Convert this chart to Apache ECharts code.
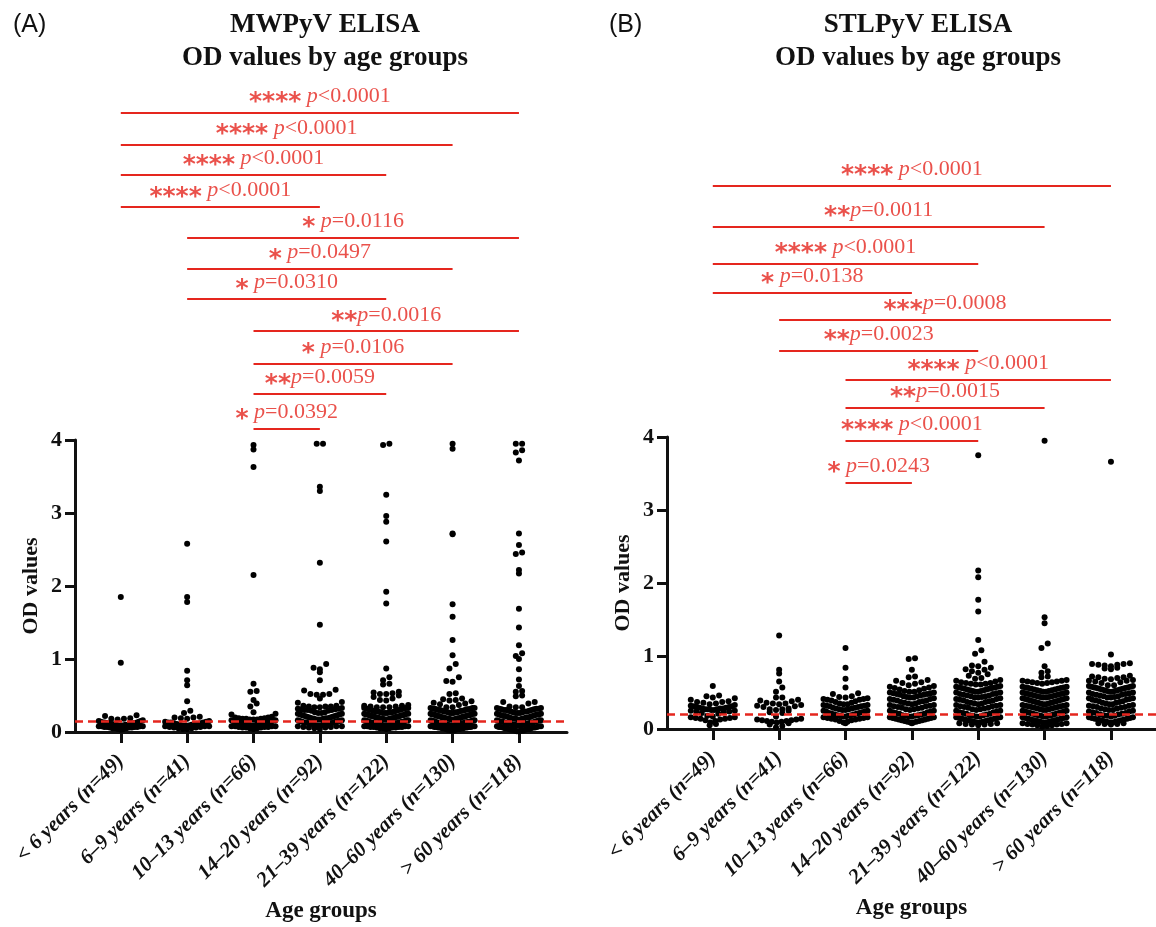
<!DOCTYPE html>
<html><head><meta charset="utf-8">
<script src="https://cdn.jsdelivr.net/npm/echarts@6/dist/echarts.min.js"></script>
<style>html,body{margin:0;padding:0;background:#fff}#c{width:1156px;height:927px}</style>
</head><body><div id="c"></div>
<script>
// ---------------- DATA ----------------
const categories = ['< 6 years (n=49)', '6–9 years (n=41)', '10–13 years (n=66)', '14–20 years (n=92)', '21–39 years (n=122)', '40–60 years (n=130)', '> 60 years (n=118)'];
const yTicks = [0, 1, 2, 3, 4];
const cutoffMwpyv = 0.15;
const cutoffStlpyv = 0.20;

// MWPyV OD values per age group
const mwpyvLt6 = [1.85,0.95,0.23,0.22,0.19,0.18,0.18,0.17,0.16,
0.15,0.15,0.14,0.14,0.13,0.13,0.13,0.12,0.12,0.12,
0.12,0.11,0.11,0.11,0.11,0.10,0.10,0.10,0.10,0.09,
0.09,0.09,0.09,0.08,0.08,0.08,0.08,0.07,0.07,0.07,
0.07,0.06,0.06,0.06,0.05,0.05,0.05,0.04,0.04,0.03];
const mwpyv6to9 = [2.58,1.85,1.78,0.84,0.71,0.64,0.42,0.29,0.26,0.21,0.20,0.20,0.19,0.18,
0.15,0.14,0.14,0.13,0.13,0.13,0.12,0.12,0.11,0.11,
0.10,0.10,0.10,0.09,0.09,0.09,0.08,0.08,0.08,0.07,
0.07,0.06,0.06,0.05,0.05,0.04,0.04];
const mwpyv10to13 = [3.93,3.87,3.63,2.15,0.66,0.56,0.55,0.44,0.39,0.35,0.27,0.25,0.24,
0.21,0.20,0.20,0.19,0.19,0.18,0.18,0.18,0.17,0.17,
0.17,0.16,0.16,0.16,0.15,0.15,0.15,0.14,0.14,0.14,
0.13,0.13,0.13,0.13,0.12,0.12,0.12,0.12,0.11,0.11,
0.11,0.11,0.10,0.10,0.10,0.10,0.09,0.09,0.09,0.09,
0.08,0.08,0.08,0.08,0.07,0.07,0.07,0.06,0.06,0.06,
0.05,0.05,0.04];
const mwpyv14to20 = [3.95,3.95,3.36,3.30,2.32,1.47,0.93,0.88,0.86,0.82,
0.71,0.58,0.57,0.52,0.52,0.51,0.51,0.46,0.41,0.40,
0.36,0.36,0.35,0.35,0.35,0.34,0.34,0.33,0.32,0.32,
0.31,0.31,0.30,0.30,0.30,0.29,0.29,
0.27,0.27,0.26,0.26,0.25,0.25,0.24,0.24,0.23,0.23,
0.22,0.22,0.21,0.21,0.20,0.20,0.19,0.19,0.19,0.18,
0.18,0.17,0.17,0.17,0.16,0.16,0.15,0.15,0.15,0.14,
0.14,0.13,0.13,0.13,0.12,0.12,0.12,0.11,0.11,0.11,
0.10,0.10,0.10,0.09,0.09,0.09,0.08,0.08,0.08,0.07,
0.07,0.06,0.06,0.05,0.04];
const mwpyv21to39 = [3.95,3.93,3.25,2.96,2.88,2.61,1.92,1.76,0.87,0.75,
0.71,0.66,0.65,0.55,0.54,0.53,0.52,0.52,0.50,0.48,
0.46,0.44,0.43,
0.37,0.36,0.36,0.35,0.35,0.34,0.34,0.34,0.33,0.33,
0.33,0.32,0.32,0.31,0.31,0.30,0.30,0.29,0.29,0.28,
0.28,0.28,0.27,0.27,0.27,0.26,0.26,0.26,0.25,0.25,
0.25,0.24,0.24,0.24,0.23,0.23,0.23,0.22,0.22,0.22,
0.21,0.21,0.21,0.20,0.20,0.20,0.19,0.19,0.19,0.18,
0.18,0.18,0.17,0.17,0.17,0.16,0.16,0.16,0.15,0.15,
0.15,0.14,0.14,0.14,0.13,0.13,0.13,0.13,0.12,0.12,
0.12,0.12,0.11,0.11,0.11,0.11,0.10,0.10,0.10,0.10,
0.09,0.09,0.09,0.09,0.08,0.08,0.08,0.08,0.07,0.07,
0.07,0.07,0.06,0.06,0.06,0.05,0.05,0.05,0.04];
const mwpyv40to60 = [3.95,3.88,2.72,2.71,1.75,1.58,1.26,1.05,0.93,0.87,
0.75,0.70,0.69,0.53,0.52,0.46,0.45,0.44,0.43,0.42,
0.40,0.39,0.38,0.37,
0.34,0.34,0.33,0.33,0.33,0.32,0.32,0.32,0.31,0.31,
0.31,0.30,0.30,0.30,0.29,0.29,0.29,0.28,0.28,0.28,
0.27,0.27,0.27,0.26,0.26,0.26,0.25,0.25,0.25,0.24,
0.24,0.24,0.23,0.23,0.23,0.22,0.22,0.22,0.21,0.21,
0.21,0.20,0.20,0.20,0.19,0.19,0.19,0.18,0.18,0.18,
0.17,0.17,0.17,0.16,0.16,0.16,0.15,0.15,0.15,0.14,
0.14,0.14,0.13,0.13,0.13,0.13,0.12,0.12,0.12,0.12,
0.11,0.11,0.11,0.11,0.10,0.10,0.10,0.10,0.09,0.09,
0.09,0.09,0.08,0.08,0.08,0.08,0.07,0.07,0.07,0.07,
0.06,0.06,0.06,0.06,0.05,0.05,0.05,0.05,0.04,0.04,
0.04,0.03,0.03,0.03,0.02,0.02];
const mwpyvGt60 = [3.95,3.95,3.86,3.83,3.72,2.72,2.56,2.46,2.44,2.22,
2.17,1.69,1.43,1.19,1.08,1.04,1.00,0.86,0.72,0.63,
0.56,0.55,0.50,0.49,0.41,0.41,0.39,
0.35,0.34,0.34,0.33,0.33,0.32,0.32,0.32,0.31,0.31,
0.30,0.30,0.30,0.29,0.29,0.28,0.28,0.28,0.27,0.27,
0.26,0.26,0.26,0.25,0.25,0.24,0.24,0.24,0.23,0.23,
0.22,0.22,0.22,0.21,0.21,0.20,0.20,0.20,0.19,0.19,
0.18,0.18,0.18,0.17,0.17,0.16,0.16,0.16,0.15,0.15,
0.14,0.14,0.14,0.13,0.13,0.13,0.12,0.12,0.12,0.11,
0.11,0.11,0.10,0.10,0.10,0.09,0.09,0.09,0.08,0.08,
0.08,0.07,0.07,0.07,0.06,0.06,0.06,0.05,0.05,0.05,
0.04,0.04,0.04,0.03,0.03,0.03,0.02,0.02,0.02,0.01,
0.01];

// STLPyV OD values per age group
const stlpyvLt6 = [0.59,0.46,0.45,0.43,0.42,0.40,0.38,0.37,0.37,0.36,
0.35,0.34,0.33,0.32,0.31,0.31,0.30,0.30,0.29,0.29,
0.28,0.28,0.28,0.27,0.27,0.27,0.26,0.26,0.25,0.25,
0.24,0.24,0.23,0.22,0.21,
0.18,0.17,0.16,0.16,0.15,0.15,0.14,0.14,0.13,0.12,0.11,0.09,0.07,0.05];
const stlpyv6to9 = [1.28,0.81,0.76,0.65,0.57,0.51,0.43,0.43,0.40,0.39,
0.38,0.36,0.35,0.35,0.34,0.33,0.32,0.31,0.30,0.28,
0.27,0.27,0.26,0.25,0.23,0.22,0.17,
0.14,0.13,0.13,0.12,0.12,0.11,0.11,0.10,0.10,0.09,0.08,0.06,0.04,0.02];
const stlpyv10to13 = [1.11,0.84,0.69,0.57,0.49,0.48,0.45,0.44,0.43,0.42,
0.41,0.41,0.40,0.40,0.39,0.38,0.37,0.36,
0.35,0.34,0.34,0.33,0.33,0.32,0.32,0.31,0.31,0.30,
0.29,0.29,0.28,0.28,0.27,0.27,0.26,0.26,0.25,0.25,
0.24,0.24,0.23,0.22,0.22,0.21,0.21,0.20,0.20,0.19,
0.19,0.18,0.18,0.17,0.17,0.16,0.16,0.15,0.15,0.14,
0.14,0.13,0.13,0.12,0.11,0.10,0.09,0.08];
const stlpyv14to20 = [0.97,0.96,0.81,0.72,0.71,0.67,0.66,0.64,0.63,0.62,
0.60,0.59,0.58,0.57,0.56,0.55,0.54,0.53,
0.52,0.51,0.51,0.50,0.50,0.49,0.49,0.48,0.48,0.47,
0.47,0.46,0.45,0.45,0.44,0.43,0.43,0.42,0.41,0.41,
0.40,0.39,0.39,0.38,0.37,0.37,0.36,0.35,0.35,0.34,
0.33,0.33,0.32,0.31,0.31,0.30,0.29,0.29,0.28,0.27,
0.27,0.26,0.25,0.25,0.24,0.23,0.23,0.22,0.21,0.21,
0.20,0.19,0.19,0.18,0.18,0.17,0.17,0.16,0.16,0.15,
0.15,0.14,0.14,0.13,0.13,0.12,0.12,0.11,0.11,0.10,
0.10,0.09,0.09,0.08];
const stlpyv21to39 = [3.75,2.17,2.08,1.77,1.61,1.22,1.08,1.03,0.92,0.87,
0.86,0.84,0.82,0.81,0.79,0.77,0.75,0.73,0.70,0.69,
0.67,0.66,0.65,0.64,0.63,0.63,0.62,0.62,0.61,0.61,
0.59,0.58,0.58,0.57,0.57,0.56,0.56,0.55,0.55,0.54,
0.54,0.53,0.53,0.52,0.52,0.51,0.51,0.50,0.50,0.49,
0.48,0.48,0.47,0.46,0.46,0.45,0.45,0.44,0.43,0.43,
0.42,0.41,0.41,0.40,0.39,0.39,0.38,0.37,0.37,0.36,
0.35,0.35,0.34,0.33,0.33,0.32,0.31,0.31,0.30,0.29,
0.29,0.28,0.27,0.27,0.26,0.25,0.25,0.24,0.23,0.23,
0.22,0.21,0.21,0.20,0.19,0.19,0.18,0.17,0.17,0.16,
0.16,0.15,0.15,0.14,0.14,0.13,0.13,0.12,0.12,0.11,
0.11,0.10,0.10,0.09,0.09,0.08,0.08,0.07,0.07,0.06,
0.06,0.05];
const stlpyv40to60 = [3.95,1.53,1.45,1.17,1.11,0.86,0.79,0.77,0.72,0.71,
0.67,0.66,0.66,0.65,0.65,0.64,0.64,0.63,0.63,0.62,
0.58,0.58,0.57,0.57,0.56,0.56,0.55,0.55,0.54,0.54,
0.53,0.53,0.52,0.52,0.51,0.51,0.50,0.50,0.49,0.49,
0.48,0.48,0.47,0.47,0.46,0.46,0.45,0.45,0.44,0.44,
0.43,0.43,0.42,0.42,0.41,0.41,0.40,0.40,0.39,0.39,
0.38,0.38,0.37,0.37,0.36,0.36,0.35,0.35,0.34,0.34,
0.33,0.33,0.32,0.32,0.31,0.31,0.30,0.30,0.29,0.29,
0.28,0.28,0.27,0.27,0.26,0.26,0.25,0.25,0.24,0.24,
0.23,0.23,0.22,0.22,0.21,0.21,0.20,0.20,0.19,0.19,
0.18,0.18,0.17,0.17,0.16,0.16,0.15,0.15,0.14,0.14,
0.13,0.13,0.12,0.12,0.11,0.11,0.10,0.10,0.09,0.09,
0.08,0.08,0.07,0.07,0.06,0.06,0.05,0.05,0.04,0.03];
const stlpyvGt60 = [3.66,1.02,0.90,0.89,0.89,0.88,0.88,0.87,0.86,0.84,
0.83,0.82,0.73,0.72,0.71,0.71,0.70,0.69,0.68,0.67,
0.66,0.66,0.65,0.64,0.63,
0.60,0.60,0.59,0.59,0.58,0.58,0.57,0.57,0.56,0.56,
0.55,0.55,0.54,0.54,0.53,0.53,0.52,0.52,0.51,0.51,
0.50,0.50,0.49,0.48,0.48,0.47,0.47,0.46,0.45,0.45,
0.44,0.43,0.43,0.42,0.42,0.41,0.40,0.40,0.39,0.38,
0.38,0.37,0.36,0.36,0.35,0.34,0.34,0.33,0.32,0.32,
0.31,0.30,0.30,0.29,0.28,0.28,0.27,0.26,0.26,0.25,
0.24,0.24,0.23,0.22,0.22,0.21,0.20,0.20,0.19,0.18,
0.18,0.17,0.16,0.16,0.15,0.15,0.14,0.14,0.13,0.13,
0.12,0.12,0.11,0.11,0.10,0.10,0.09,0.09,0.08,0.08,
0.07,0.07,0.06];

// significance brackets: [group a, group b, label]
const bracketsMwpyv = [
  [0,6,'**** p<0.0001'],[0,5,'**** p<0.0001'],[0,4,'**** p<0.0001'],[0,3,'**** p<0.0001'],
  [1,6,'* p=0.0116'],[1,5,'* p=0.0497'],[1,4,'* p=0.0310'],
  [2,6,'**p=0.0016'],[2,5,'* p=0.0106'],[2,4,'**p=0.0059'],[2,3,'* p=0.0392']
];
const bracketsStlpyv = [
  [0,6,'**** p<0.0001'],[0,5,'**p=0.0011'],[0,4,'**** p<0.0001'],[0,3,'* p=0.0138'],
  [1,6,'***p=0.0008'],[1,4,'**p=0.0023'],
  [2,6,'**** p<0.0001'],[2,5,'**p=0.0015'],[2,4,'**** p<0.0001'],[2,3,'* p=0.0243']
];
// bracket heights (in OD units, as placed above the plot)
const bracketLevelsMwpyv = [8.48,8.05,7.63,7.19,6.77,6.34,5.93,5.49,5.05,4.63,4.15];
const bracketLevelsStlpyv = [7.44,6.88,6.38,5.97,5.60,5.18,4.78,4.40,3.95,3.37];

const groupsMwpyv = [mwpyvLt6, mwpyv6to9, mwpyv10to13, mwpyv14to20, mwpyv21to39, mwpyv40to60, mwpyvGt60];
const groupsStlpyv = [stlpyvLt6, stlpyv6to9, stlpyv10to13, stlpyv14to20, stlpyv21to39, stlpyv40to60, stlpyvGt60];

// ---------------- LAYOUT / STYLE ----------------
const RED = '#e5261e';
const SERIF = 'Liberation Serif';
const BIN = 0.085, STEP = 6.3, MAX_HALF = 22, DOT = 6;
const XMIN = -0.69;
const PANEL = [
  {left: 75, width: 492, zeroY: 732, cx: 320, tag: '(A)', tagX: 8, title: 'MWPyV ELISA\nOD values by age groups',
   groups: groupsMwpyv, cutoff: cutoffMwpyv, brackets: bracketsMwpyv, levels: bracketLevelsMwpyv},
  {left: 667, width: 489, zeroY: 729, cx: 913, tag: '(B)', tagX: 604, title: 'STLPyV ELISA\nOD values by age groups',
   groups: groupsStlpyv, cutoff: cutoffStlpyv, brackets: bracketsStlpyv, levels: bracketLevelsStlpyv}
];
const PX_OD = 73, PX_CAT = 66.36, ANN_MAX = 8.8;

function swarm(vals, gi) {
  const sorted = vals.slice().sort((a, b) => a - b);
  const bins = new Map();
  sorted.forEach(v => { const k = Math.floor(v / BIN + 1e-9); if (!bins.has(k)) bins.set(k, []); bins.get(k).push(v); });
  const out = [];
  bins.forEach(arr => {
    const k = arr.length;
    const step = k > 1 ? Math.min(STEP, 2 * MAX_HALF / (k - 1)) : 0;
    arr.forEach((v, j) => {
      let slot;
      if (k % 2) slot = j === 0 ? 0 : (j % 2 ? -Math.ceil(j / 2) : Math.ceil(j / 2));
      else { const m = Math.floor(j / 2) + 0.5; slot = j % 2 ? m : -m; }
      out.push({value: [gi, v], symbolOffset: [slot * step, 0]});
    });
  });
  return out;
}
function bracketLabel(s) {
  const m = s.match(/^(\*+)(\s?)p(.*)$/);
  return '{s|' + m[1] + '}' + m[2] + '{p|p}{n|' + m[3] + '}';
}

const grid = [], xAxis = [], yAxis = [], series = [], title = [];
PANEL.forEach((P, pi) => {
  const xmax = XMIN + P.width / PX_CAT;
  const mainTop = P.zeroY - 4 * PX_OD;
  const annTop = P.zeroY - ANN_MAX * PX_OD;
  const gMain = grid.length;
  grid.push({left: P.left, top: mainTop, width: P.width, height: 4 * PX_OD, containLabel: false});
  grid.push({left: P.left, top: annTop, width: P.width, height: ANN_MAX * PX_OD, containLabel: false});
  xAxis.push({
    type: 'value', gridIndex: gMain, min: XMIN, max: xmax,
    splitLine: {show: false},
    axisLine: {onZero: false, lineStyle: {color: '#111', width: 3}},
    axisTick: {show: true, customValues: [0,1,2,3,4,5,6], length: 11, lineStyle: {color: '#111', width: 3}},
    axisLabel: {customValues: [0,1,2,3,4,5,6], formatter: v => categories[Math.round(v)], rotate: 45, margin: 26,
      fontFamily: SERIF, fontWeight: 'bold', fontStyle: 'italic', fontSize: 21, color: '#111'},
    name: 'Age groups', nameLocation: 'middle', nameGap: 168,
    nameTextStyle: {fontFamily: SERIF, fontWeight: 'bold', fontSize: 23, color: '#111'}
  });
  xAxis.push({type: 'value', gridIndex: gMain + 1, min: XMIN, max: xmax, show: false});
  yAxis.push({
    type: 'value', gridIndex: gMain, min: 0, max: 4, interval: 1,
    splitLine: {show: false},
    axisLine: {show: true, onZero: false, lineStyle: {color: '#111', width: 3}},
    axisTick: {show: true, length: 10, lineStyle: {color: '#111', width: 3}},
    axisLabel: {margin: 13, fontFamily: SERIF, fontWeight: 'bold', fontSize: 22, color: '#111',
      formatter: v => String(yTicks[yTicks.indexOf(v)])},
    name: 'OD values', nameLocation: 'middle', nameGap: 33,
    nameTextStyle: {fontFamily: SERIF, fontWeight: 'bold', fontSize: 22, color: '#111'}
  });
  yAxis.push({type: 'value', gridIndex: gMain + 1, min: 0, max: ANN_MAX, show: false});

  const pts = [];
  P.groups.forEach((g, gi) => pts.push(...swarm(g, gi)));
  series.push({
    type: 'scatter', xAxisIndex: gMain, yAxisIndex: gMain, data: pts, symbol: 'circle', symbolSize: DOT,
    itemStyle: {color: '#000', opacity: 1}, silent: true, animation: false, z: 3,
    markLine: {silent: true, symbol: 'none', animation: false, label: {show: false}, z: 4,
      lineStyle: {color: RED, type: [8, 5], width: 2.5}, data: [{yAxis: P.cutoff}]}
  });
  series.push({
    type: 'lines', coordinateSystem: 'cartesian2d', xAxisIndex: gMain + 1, yAxisIndex: gMain + 1,
    silent: true, animation: false, z: 5,
    lineStyle: {color: RED, width: 2, opacity: 1},
    data: P.brackets.map((b, i) => ({coords: [[b[0], P.levels[i]], [b[1], P.levels[i]]]}))
  });
  series.push({
    type: 'scatter', xAxisIndex: gMain + 1, yAxisIndex: gMain + 1, symbolSize: 1, silent: true, animation: false, z: 6,
    itemStyle: {color: 'rgba(0,0,0,0)'},
    label: {show: true, position: 'top', distance: 5, color: RED, fontFamily: SERIF, fontSize: 22,
      formatter: p => bracketLabel(p.data.name),
      rich: {
        s: {fontFamily: 'DejaVu Sans', fontWeight: 'bold', fontSize: 25, lineHeight: 14, color: RED, padding: [13, 0, 0, 0]},
        p: {fontFamily: SERIF, fontStyle: 'italic', fontSize: 22, color: RED},
        n: {fontFamily: SERIF, fontSize: 22, color: RED}
      }},
    data: P.brackets.map((b, i) => ({name: b[2], value: [(b[0] + b[1]) / 2, P.levels[i]]}))
  });
  title.push({text: P.title, left: P.cx, top: 4, textAlign: 'center',
    textStyle: {fontFamily: SERIF, fontWeight: 'bold', fontSize: 27, lineHeight: 33, color: '#111'}});
  title.push({text: P.tag, left: P.tagX, top: 8,
    textStyle: {fontFamily: 'Liberation Sans', fontWeight: 'normal', fontSize: 25, color: '#111'}});
});

const chart = echarts.init(document.getElementById('c'), null, {renderer: 'canvas'});
chart.setOption({animation: false, backgroundColor: '#fff', title, grid, xAxis, yAxis, series});
</script></body></html>
